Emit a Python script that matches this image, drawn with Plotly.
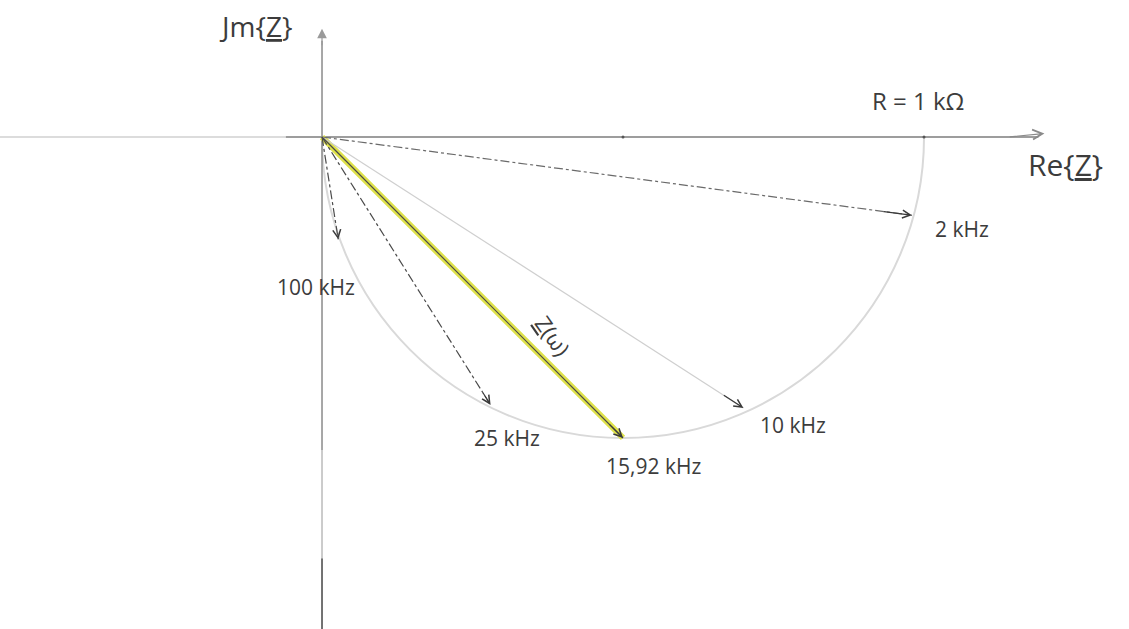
import plotly.graph_objects as go

# Parallel RC impedance locus, values in kOhm
R_kohm = 1.0
freq_labels = ["2 kHz", "10 kHz", "15,92 kHz", "25 kHz", "100 kHz"]
z_re = [0.98, 0.70, 0.50, 0.28, 0.027]
z_im = [-0.13, -0.45, -0.50, -0.445, -0.17]
line_styles = ["dashdot", "solid", "solid", "dashdot", "dashdot"]
line_colors = ["#6a6a6a", "#cfcfcf", "#4a4a4a", "#4a4a4a", "#4a4a4a"]
label_shift = [(50, -14), (50, -17), (30, -28), (16, -33), (-22, -48)]

re_axis_end = 1.19
im_axis_top = 0.16
im_axis_bottom = -0.82
ticks_re = [0.5, 1.0]

X_RANGE = [-0.5349, 1.3405]
Y_RANGE = [-0.8173, 0.2276]

INK = "#3c3c3c"
FONT = "Open Sans"

fig = go.Figure()

# semicircle locus (lower half), centre R/2, radius R/2
cx, r = R_kohm / 2, R_kohm / 2
k = 0.5523 * r
arc = (f"M {cx - r},0 C {cx - r},{-k} {cx - k},{-r} {cx},{-r} "
       f"C {cx + k},{-r} {cx + r},{-k} {cx + r},0")
fig.add_shape(type="path", path=arc, xref="x", yref="y",
              line=dict(color="#d9d9d9", width=2), layer="below")

# real axis
fig.add_trace(go.Scatter(x=[X_RANGE[0], -0.06], y=[0, 0], mode="lines",
                         line=dict(color="#d0d0d0", width=1.5), hoverinfo="skip"))
fig.add_trace(go.Scatter(x=[-0.06, re_axis_end], y=[0, 0], mode="lines",
                         line=dict(color="#7c7c7c", width=1.5), hoverinfo="skip"))
fig.add_annotation(x=re_axis_end + 0.01, y=0.006, ax=re_axis_end - 0.05, ay=0.0,
                   xref="x", yref="y", axref="x", ayref="y", text="",
                   showarrow=True, arrowhead=5, arrowsize=1.6, arrowwidth=1.2,
                   arrowcolor="#8a8a8a")
# imaginary axis
fig.add_trace(go.Scatter(x=[0, 0], y=[im_axis_bottom, -0.52], mode="lines",
                         line=dict(color="#bbbbbb", width=1.5), hoverinfo="skip"))
fig.add_trace(go.Scatter(x=[0, 0], y=[-0.52, im_axis_top], mode="lines",
                         line=dict(color="#8a8a8a", width=1.5), hoverinfo="skip"))
fig.add_trace(go.Scatter(x=[0, 0], y=[im_axis_bottom, -0.70], mode="lines",
                         line=dict(color="#555555", width=1.5), hoverinfo="skip"))
fig.add_annotation(x=0, y=im_axis_top + 0.02, ax=0, ay=im_axis_top - 0.01,
                   xref="x", yref="y", axref="x", ayref="y", text="",
                   showarrow=True, arrowhead=2, arrowsize=1.6, arrowwidth=1.2,
                   arrowcolor="#9a9a9a")
# ticks on the real axis
fig.add_trace(go.Scatter(x=ticks_re, y=[0] * len(ticks_re), mode="markers",
                         marker=dict(color="#555555", size=3), hoverinfo="skip"))

# highlighted Z(omega) phasor at the corner frequency
i0 = 2
fig.add_trace(go.Scatter(x=[0, z_re[i0]], y=[0, z_im[i0]], mode="lines",
                         line=dict(color="#dfe24a", width=6), hoverinfo="skip"))

# phasors to the labelled frequencies
for i in range(len(z_re)):
    fig.add_trace(go.Scatter(x=[0, z_re[i]], y=[0, z_im[i]], mode="lines",
                             line=dict(color=line_colors[i], width=1.2,
                                       dash=line_styles[i]),
                             hoverinfo="skip"))
    fig.add_annotation(x=z_re[i], y=z_im[i],
                       ax=z_re[i] * 0.95, ay=z_im[i] * 0.95,
                       xref="x", yref="y", axref="x", ayref="y", text="",
                       showarrow=True, arrowhead=5, arrowsize=1.3,
                       arrowwidth=1.2, arrowcolor="#3a3a3a", standoff=0)
    fig.add_annotation(x=z_re[i], y=z_im[i], text=freq_labels[i],
                       showarrow=False, xshift=label_shift[i][0],
                       yshift=label_shift[i][1],
                       font=dict(family=FONT, size=21, color=INK))

# axis and component labels
fig.add_annotation(x=-0.11, y=0.185, text="Jm{<u>Z</u>}", showarrow=False,
                   font=dict(family=FONT, size=28, color=INK))
fig.add_annotation(x=1.235, y=-0.045, text="Re{<u>Z</u>}", showarrow=False,
                   font=dict(family=FONT, size=30, color=INK))
fig.add_annotation(x=0.99, y=0.06, text="R = 1 kΩ", showarrow=False,
                   font=dict(family=FONT, size=24, color=INK))
fig.add_annotation(x=0.385, y=-0.33, text="<u>Z</u>(ω)", showarrow=False,
                   textangle=55,
                   font=dict(family=FONT, size=22, color=INK))

fig.update_layout(
    width=1129, height=629,
    margin=dict(l=0, r=0, t=0, b=0),
    paper_bgcolor="white", plot_bgcolor="white",
    showlegend=False,
    xaxis=dict(range=X_RANGE, visible=False, fixedrange=True),
    yaxis=dict(range=Y_RANGE, visible=False, fixedrange=True),
)

fig.write_html("out.html")
